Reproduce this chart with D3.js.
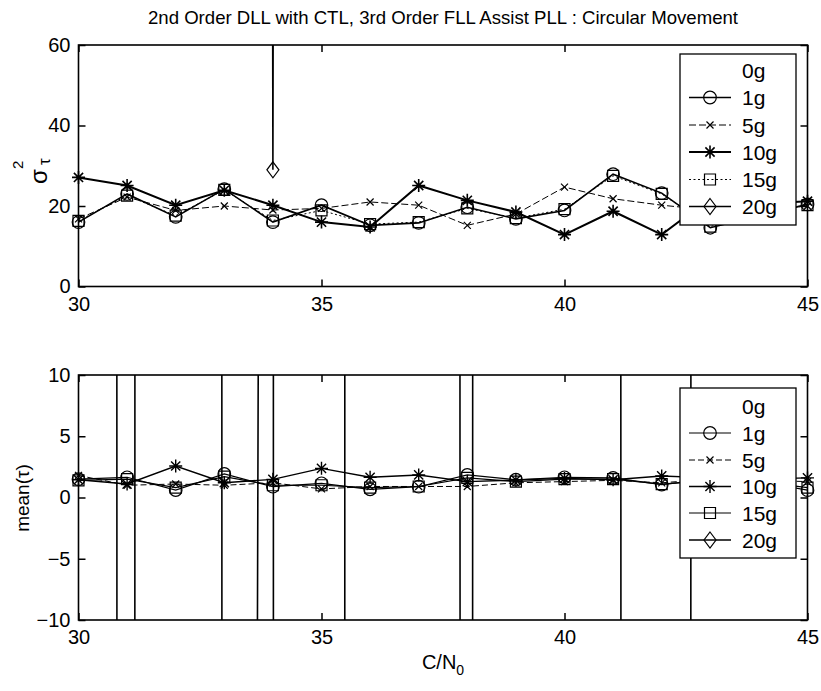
<!DOCTYPE html>
<html>
<head>
<meta charset="utf-8">
<script src="https://cdn.jsdelivr.net/npm/d3@7/dist/d3.min.js"></script>
<style>
  body { margin: 0; background: #fff; }
  svg { font-family: "Liberation Sans", Arial, Helvetica, sans-serif; }
</style>
</head>
<body>
<svg id="fig" width="821" height="691"></svg>
<script>
// C/N0 sweep (dB-Hz)
const cn0 = [30, 31, 32, 33, 34, 35, 36, 37, 38, 39, 40, 41, 42, 43, 44, 45];
const legendLabels = ["0g", "1g", "5g", "10g", "15g", "20g"];
const xTicks = [30, 35, 40, 45];
const sigmaTicks = [0, 20, 40, 60];
const meanTicks = [-10, -5, 0, 5, 10];

// code tracking error variance
const sigma1g  = [16.0, 23.0, 17.3, 24.2, 16.0, 20.2, 15.2, 15.8, 19.7, 16.8, 18.9, 27.9, 23.2, 14.6, 17.5, 20.4];
const sigma5g  = [16.8, 22.2, 18.9, 20.0, 19.0, 19.4, 21.0, 20.2, 15.2, 18.0, 24.7, 21.8, 20.2, 19.0, 19.5, 20.0];
const sigma10g = [27.1, 25.1, 20.2, 23.9, 20.2, 16.0, 14.8, 25.1, 21.4, 18.5, 12.9, 18.7, 12.9, 22.0, 20.5, 21.2];
const sigma15g = [16.3, 22.6, 17.6, 24.0, 16.4, 18.9, 15.5, 16.0, 19.4, 17.0, 19.2, 27.5, 23.0, 14.9, 17.8, 20.2];
const sigma20g = [4200, 3100, 5600, 7400, 29.0, 6800, 3900, 5200, 4600, 6100, 2800, 5300, 4400, 3600, 5800, 4900];

// code tracking error mean
const mean1g  = [1.50, 1.65, 0.61, 1.92, 0.88, 1.16, 0.67, 0.88, 1.84, 1.45, 1.65, 1.60, 1.05, 1.50, 1.30, 0.60];
const mean5g  = [1.80, 1.00, 1.10, 1.00, 1.20, 0.70, 0.90, 0.90, 0.90, 1.20, 1.30, 1.40, 1.20, 1.50, 1.40, 1.30];
const mean10g = [1.45, 1.10, 2.57, 1.21, 1.48, 2.38, 1.65, 1.84, 1.30, 1.43, 1.56, 1.45, 1.76, 1.60, 1.50, 1.60];
const mean15g = [1.40, 1.50, 0.80, 1.70, 1.00, 1.00, 0.80, 0.90, 1.60, 1.30, 1.50, 1.50, 1.10, 1.40, 1.30, 0.80];
const mean20g = [12130, -3226, 16935, -890, 400, -39600, 43000, 8500, -1500, 12136, 9000, 1600, -8400, 5600, 7000, 6000];

const svg = d3.select("#fig");

// shared horizontal layout of both axes
const x = d3.scaleLinear().domain([30, 45]).range([78.5, 807.5]);

// marker glyphs, centred on the origin
function markerPath(type) {
  switch (type) {
    case "x": return "M-3.5,-3.5L3.5,3.5M-3.5,3.5L3.5,-3.5";
    case "*": return "M0,-6.5V6.5M-6.5,0H6.5M-4.6,-4.6L4.6,4.6M-4.6,4.6L4.6,-4.6";
    case "s": return "M-5.5,-5.5H5.5V5.5H-5.5Z";
    case "d": return "M0,-8L6,0L0,8L-6,0Z";
  }
  return null;
}
function drawMarker(g, type, cx, cy, width) {
  if (!type) return;
  if (type === "o") {
    g.append("circle").attr("cx", cx).attr("cy", cy).attr("r", 6.3)
      .attr("fill", "none").attr("stroke", "#000").attr("stroke-width", width);
  } else {
    g.append("path").attr("d", markerPath(type))
      .attr("transform", `translate(${cx},${cy})`)
      .attr("fill", "none").attr("stroke", "#000").attr("stroke-width", width);
  }
}

function panel(cfg) {
  const { top, bottom, domain, ticks, series, legendTop, legendBottom, legendRows, clipId } = cfg;
  const y = d3.scaleLinear().domain(domain).range([bottom, top]);
  const g = svg.append("g");

  g.append("clipPath").attr("id", clipId)
    .append("rect").attr("x", x(30)).attr("y", top)
    .attr("width", x(45) - x(30)).attr("height", bottom - top);

  // data lines, clipped to the axes; markers only where the point is in range
  series.forEach(s => {
    const line = d3.line().x((d, i) => x(cn0[i])).y(d => y(d));
    g.append("path").datum(s.values)
      .attr("d", line)
      .attr("clip-path", `url(#${clipId})`)
      .attr("fill", "none").attr("stroke", "#000")
      .attr("stroke-width", s.width)
      .attr("stroke-dasharray", s.dash || null);
    const mg = g.append("g");
    s.values.forEach((v, i) => {
      if (v >= domain[0] && v <= domain[1]) drawMarker(mg, s.marker, x(cn0[i]), y(v), s.mwidth || 1.2);
    });
  });

  // axes with inward ticks on all four sides
  const axB = g.append("g").attr("transform", `translate(0,${bottom})`)
    .call(d3.axisBottom(x).tickValues(xTicks).tickSize(-7).tickPadding(10));
  const axT = g.append("g").attr("transform", `translate(0,${top})`)
    .call(d3.axisTop(x).tickValues(xTicks).tickSize(-7).tickFormat(""));
  const axL = g.append("g").attr("transform", `translate(${x(30)},0)`)
    .call(d3.axisLeft(y).tickValues(ticks).tickSize(-7).tickPadding(8));
  const axR = g.append("g").attr("transform", `translate(${x(45)},0)`)
    .call(d3.axisRight(y).tickValues(ticks).tickSize(-7).tickFormat(""));
  [axB, axT, axL, axR].forEach(a => {
    a.select(".domain").remove();
    a.selectAll(".tick line").attr("stroke", "#000").attr("stroke-width", 1.5);
    a.selectAll("text").attr("font-size", 20)
      .attr("font-family", "Liberation Sans, Arial, sans-serif").attr("fill", "#000");
  });

  g.append("rect").attr("x", x(30)).attr("y", top)
    .attr("width", x(45) - x(30)).attr("height", bottom - top)
    .attr("fill", "none").attr("stroke", "#000").attr("stroke-width", 1.6);

  // legend
  const lx0 = 680, lx1 = 796;
  g.append("rect").attr("x", lx0).attr("y", legendTop)
    .attr("width", lx1 - lx0).attr("height", legendBottom - legendTop)
    .attr("fill", "#fff").attr("stroke", "#000").attr("stroke-width", 1.3);
  legendLabels.forEach((lab, i) => {
    const cy = legendRows[i];
    const s = series.find(d => d.name === lab);
    if (s) {
      g.append("line").attr("x1", 689).attr("x2", 731).attr("y1", cy).attr("y2", cy)
        .attr("stroke", "#000").attr("stroke-width", s.width)
        .attr("stroke-dasharray", s.dash || null);
      drawMarker(g, s.marker, 710, cy, s.mwidth || 1.2);
    }
    g.append("text").attr("x", 742).attr("y", cy + 7.5)
      .attr("font-size", 21).text(lab);
  });
  return y;
}

panel({
  clipId: "clipTop", top: 45, bottom: 286.5, domain: [0, 60], ticks: sigmaTicks,
  legendTop: 54, legendBottom: 225, legendRows: [70, 97.5, 125, 152, 179.5, 206.5],
  series: [
    { name: "1g",  values: sigma1g,  marker: "o", width: 1.6 },
    { name: "5g",  values: sigma5g,  marker: "x", width: 1.0, dash: "7,3" },
    { name: "10g", values: sigma10g, marker: "*", width: 2.0, mwidth: 1.6 },
    { name: "15g", values: sigma15g, marker: "s", width: 1.0, dash: "2,2.5" },
    { name: "20g", values: sigma20g, marker: "d", width: 1.6 }
  ]
});

panel({
  clipId: "clipBot", top: 375, bottom: 620, domain: [-10, 10], ticks: meanTicks,
  legendTop: 388, legendBottom: 558, legendRows: [406.5, 433, 460, 486.5, 513, 540],
  series: [
    { name: "1g",  values: mean1g,  marker: "o", width: 1.2 },
    { name: "5g",  values: mean5g,  marker: "x", width: 1.0, dash: "6,3" },
    { name: "10g", values: mean10g, marker: "*", width: 1.4, mwidth: 1.4 },
    { name: "15g", values: mean15g, marker: "s", width: 1.2 },
    { name: "20g", values: mean20g, marker: "d", width: 1.6 }
  ]
});

// title
svg.append("text").attr("x", (x(30) + x(45)) / 2).attr("y", 24)
  .attr("text-anchor", "middle").attr("font-size", 18.6)
  .text("2nd Order DLL with CTL, 3rd Order FLL Assist PLL : Circular Movement");

// y label of the upper axes: sigma squared, subscript tau
svg.append("text").attr("transform", "translate(47,184) rotate(-90)")
  .attr("font-size", 24).text("σ");
svg.append("text").attr("transform", "translate(23,169) rotate(-90)")
  .attr("font-size", 15).text("2");
svg.append("text").attr("transform", "translate(50,165) rotate(-90)")
  .attr("font-size", 17).text("τ");

// y label of the lower axes
svg.append("text").attr("transform", "translate(29,498) rotate(-90)")
  .attr("text-anchor", "middle").attr("font-size", 19).text("mean(τ)");

// x label
const xl = svg.append("text").attr("x", 443).attr("y", 669).attr("text-anchor", "middle").attr("font-size", 20);
xl.append("tspan").text("C/N");
xl.append("tspan").attr("dy", 6).attr("font-size", 14).text("0");
</script>
</body>
</html>
